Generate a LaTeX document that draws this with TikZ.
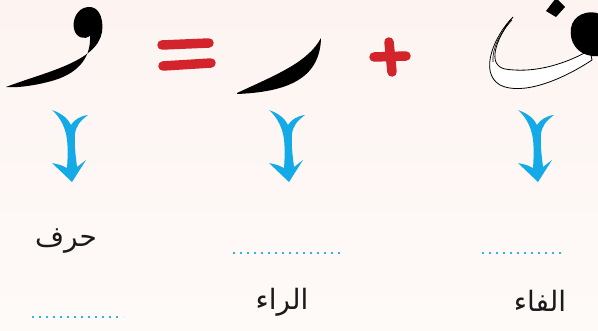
\documentclass[tikz,border=0pt]{standalone}
\usepackage{fontspec}
\usetikzlibrary{positioning}
\TeXXeTstate=1
\newfontfamily\arabicfont[Script=Arabic]{DejaVu Sans}
\definecolor{bgtop}{HTML}{FDF4F1}
\definecolor{bgbot}{HTML}{FEFAF8}
\definecolor{signred}{HTML}{D3232B}
\definecolor{arrowblue}{HTML}{14AAE8}
\definecolor{dotblue}{HTML}{2BB6E9}
\definecolor{ink}{HTML}{1A1A1A}
\tikzset{
 glyph/.style={fill=black},
 hollow/.style={fill=white,draw=black,line width=0.8pt},
 sign/.style={draw=signred,line width=9.5pt,line cap=round},
 blank/.style={draw=dotblue,line width=2pt,dash pattern=on 2pt off 5pt},
 lbl/.style={font=\arabicfont\fontsize{28}{32}\selectfont,text=ink,inner sep=0pt},
 downarr/.pic={
  \fill[arrowblue] (-19,0) .. controls (-8,4) and (-3,9) .. (0,15)
   .. controls (3,10) and (9,6) .. (17,5)
   .. controls (9,11) and (5,16) .. (4,24)
   .. controls (3,35) and (5,48) .. (6,57) -- (15,50) -- (1,72) -- (-19,53)
   .. controls (-10,55) .. (-4,58)
   .. controls (-3,45) and (-3,32) .. (-5,24)
   .. controls (-7,15) and (-12,6) .. cycle;
 }}

\begin{document}
\begin{tikzpicture}[x=1pt,y=-1pt]
\useasboundingbox (0,0) rectangle (598,330);
\fill[top color=bgtop,bottom color=bgbot] (0,0) rectangle (598,330);
\clip (0,0) rectangle (598,330);

% waw
\fill[glyph] (6,87) .. controls (45,72) and (97,62) .. (102,32)
 .. controls (104,15) and (97,6) .. (88,7)
 .. controls (77,8) and (72,20) .. (74,29)
 .. controls (76,38) and (85,40) .. (90,36)
 .. controls (91,56) and (80,72) .. (55,80)
 .. controls (35,86) and (15,88) .. cycle;

% equals
\draw[sign] (162,45) -- (209,43);
\draw[sign] (163,66) -- (211,63);

% ra
\fill[glyph] (237,94) .. controls (285,92) and (320,80) .. (321,38)
 .. controls (308,62) and (278,74) .. (237,93) -- cycle;

% plus
\draw[sign] (374,57) -- (406,56);
\draw[sign] (389,42) -- (392,72);

% fa (hollow body)
\draw[hollow] (513,17) .. controls (495,35) and (478,72) .. (500,85)
 .. controls (522,96) and (562,80) .. (592,60) -- (590,50)
 .. controls (560,67) and (530,73) .. (505,69)
 .. controls (487,65) and (495,40) .. cycle;
\draw[line width=0.6pt] (512,20) .. controls (500,33) and (492,48) .. (493,62);
\fill[glyph] (600,14) .. controls (588,9) and (573,15) .. (571,28)
 .. controls (569,42) and (577,54) .. (592,56) -- (600,56) -- cycle;
\fill[glyph] (546,11) -- (556,17) -- (565,7) -- (556,-2) -- cycle;

% arrows
\pic at (71,110) {downarr};
\pic at (288,110) {downarr};
\pic at (537,110) {downarr};

% labels
\node[lbl] (harf) at (66,241) {\beginR حرف\endR};
\node[lbl] (ra) at (282,302) {\beginR الراء\endR};
\node[lbl] (fa) at (540,301) {\beginR الفاء\endR};

% blanks
\coordinate (b1l) at (32,317);
\coordinate (b1r) at (123,317);
\coordinate (b2l) at (233,253);
\coordinate (b2r) at (344,253);
\coordinate (b3l) at (482,253);
\coordinate (b3r) at (564,253);
\draw[blank] (b1l) -- (b1r);
\draw[blank] (b2l) -- (b2r);
\draw[blank] (b3l) -- (b3r);
\end{tikzpicture}
\end{document}
